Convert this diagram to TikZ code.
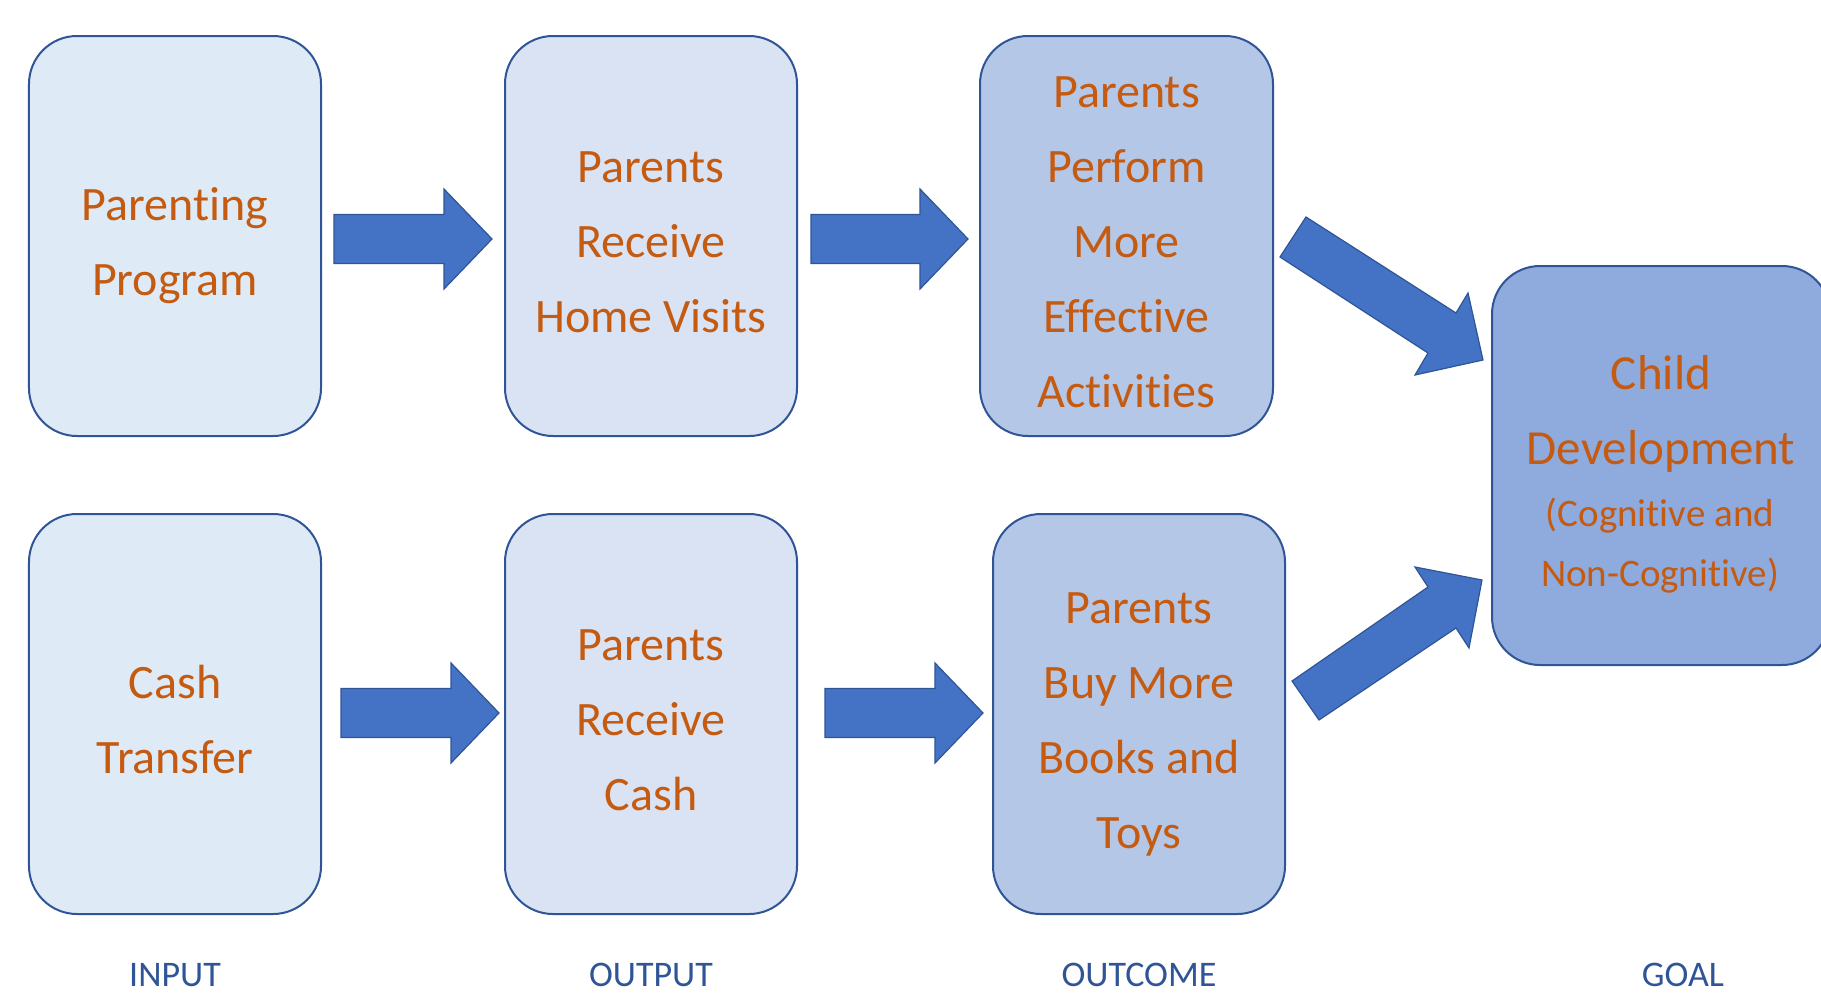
\documentclass[tikz,border=0pt]{standalone}
\usepackage{fontspec}
\setmainfont{Carlito}[Ligatures=NoCommon]
\usetikzlibrary{calc}
\definecolor{boxA}{HTML}{DEEBF7}
\definecolor{boxB}{HTML}{DAE3F3}
\definecolor{boxC}{HTML}{B4C7E7}
\definecolor{boxD}{HTML}{8FAADC}
\definecolor{edgeblue}{HTML}{2F5597}
\definecolor{arrowfill}{HTML}{4472C4}
\definecolor{txtorange}{HTML}{C55A11}
\newcommand\tstrut{\rule[-9bp]{0pt}{61bp}}
\newcommand\harrow[2]{%
  \path[blockarrow] let \p1=(#1), \p2=(#2) in
   ({\x1},{\y1+24.5bp}) -- ({\x2-48bp},{\y1+24.5bp}) -- ({\x2-48bp},{\y1+50bp}) --
   ({\x2},{\y1}) -- ({\x2-48bp},{\y1-50bp}) -- ({\x2-48bp},{\y1-24.5bp}) --
   ({\x1},{\y1-24.5bp}) -- cycle;}
\begin{document}
\begin{tikzpicture}[x=1bp,y=-1bp,
  stage/.style={draw=edgeblue, line width=2bp, rounded corners=48bp,
    minimum width=292bp, minimum height=400bp, inner sep=0pt, align=center,
    text=txtorange, font=\fontsize{48bp}{75bp}\selectfont},
  blockarrow/.style={draw=edgeblue, fill=arrowfill, line width=1.2bp, line join=miter},
  goaltxt/.style={text=txtorange, anchor=base, inner sep=0pt, font=\fontsize{49bp}{60bp}\selectfont},
  goalsmall/.style={text=txtorange, anchor=base, inner sep=0pt, font=\fontsize{39bp}{50bp}\selectfont},
  lab/.style={text=edgeblue, anchor=base, inner sep=0pt, font=\fontsize{36bp}{44bp}\selectfont}]
\useasboundingbox (0,0) rectangle (1821,996);
\clip (0,0) rectangle (1821,996);
\fill[white] (0,0) rectangle (1821,996);

% top row
\node[stage, fill=boxA] (b1) at (175,236) {\tstrut Parenting\\\tstrut Program};
\node[stage, fill=boxB] (b2) at (651,236) {\tstrut Parents\\\tstrut Receive\\\tstrut Home Visits};
\node[stage, fill=boxC, minimum width=293bp] (b3) at (1126.5,236) {\tstrut Parents\\\tstrut Perform\\\tstrut More\\\tstrut Effective\\\tstrut Activities};

% bottom row
\node[stage, fill=boxA] (b4) at (175,714) {\tstrut Cash\\\tstrut Transfer};
\node[stage, fill=boxB] (b5) at (651,714) {\tstrut Parents\\\tstrut Receive\\\tstrut Cash};
\node[stage, fill=boxC] (b6) at (1139,714) {\tstrut Parents\\\tstrut Buy More\\\tstrut Books and\\\tstrut Toys};

% goal
\node[stage, fill=boxD, minimum width=338bp, minimum height=399bp] (goal) at (1661,465.5) {};
\node[goaltxt] (g1) at (1661,389) {Child};
\node[goaltxt] (g2) at (1661,464) {Development};
\node[goalsmall] (g3) at (1660,526) {(Cognitive and};
\node[goalsmall] (g4) at (1660,586) {Non-Cognitive)};

% horizontal block arrows
\harrow{$(b1.east)+(12,3)$}{$(b2.west)+(-12,3)$}
\harrow{$(b2.east)+(13,3)$}{$(b3.west)+(-11,3)$}
\harrow{$(b4.east)+(19,-1)$}{$(b5.west)+(-5,-1)$}
\harrow{$(b5.east)+(27,-1)$}{$(b6.west)+(-9,-1)$}

% diagonal block arrows
\path[blockarrow] (1306,217) -- (1456,313) -- (1468,293) -- (1483,360) -- (1415,375) -- (1428,353) -- (1280,257) -- cycle;
\path[blockarrow] (1319,720) -- (1456,628) -- (1469,648) -- (1482,580) -- (1415,567) -- (1428,587) -- (1292,681) -- cycle;

% column labels
\node[lab] (l1) at (175,986) {INPUT};
\node[lab] (l2) at (651,986) {OUTPUT};
\node[lab] (l3) at (1139,986) {OUTCOME};
\node[lab] (l4) at (1683,986) {GOAL};
\end{tikzpicture}
\end{document}
